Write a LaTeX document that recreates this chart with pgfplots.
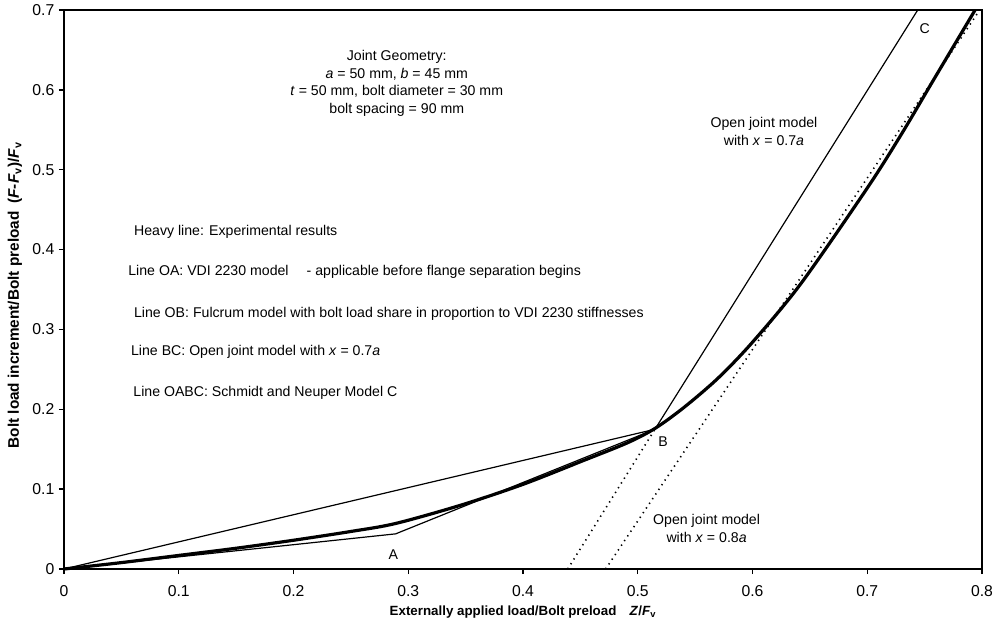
\documentclass[border=0pt]{standalone}
\usepackage{fontspec}
\setmainfont{Liberation Sans}
\usepackage{pgfplots}
\pgfplotsset{compat=1.18}
\begin{document}
\begin{tikzpicture}
\useasboundingbox (-48pt,-44.25pt) rectangle (704.25pt,426.75pt);
\begin{axis}[
  at={(0pt,0pt)}, anchor=south west,
  scale only axis, width=688.5pt, height=419.25pt,
  xmin=0, xmax=0.8, ymin=0, ymax=0.7,
  xtick={0,0.1,0.2,0.3,0.4,0.5,0.6,0.7,0.8},
  xticklabels={0,0.1,0.2,0.3,0.4,0.5,0.6,0.7,0.8},
  ytick={0,0.1,0.2,0.3,0.4,0.5,0.6,0.7},
  yticklabels={0,0.1,0.2,0.3,0.4,0.5,0.6,0.7},
  tick align=outside, tick pos=left,
  major tick length=3.75pt,
  axis line style={line width=1pt},
  tick style={line width=1pt, black},
  ticklabel style={font=\fontsize{11.8}{13}\selectfont},
  xticklabel style={yshift=-5pt},
  xlabel={\bfseries Externally applied load/Bolt preload\quad \textit{Z}/\textit{F}\textsubscript{v}},
  ylabel={\bfseries Bolt load increment/Bolt preload\enspace (\textit{F}-\textit{F}\textsubscript{v})/\textit{F}\textsubscript{v}},
  xlabel style={font=\fontsize{10}{12}\selectfont, at={(axis description cs:0.5,-0.077)}, anchor=center},
  ylabel style={font=\fontsize{11.5}{13}\selectfont, at={(axis description cs:-0.0534,0.49)}, anchor=center},
  clip=false,
]
% heavy line: experimental results
\addplot[black, line width=2.4pt, smooth, tension=0.5] coordinates {
(0,0) (0.05,0.008) (0.1,0.017) (0.15,0.026) (0.2,0.036) (0.25,0.047)
(0.289,0.057) (0.346,0.080) (0.4,0.106) (0.453,0.136) (0.491,0.158)
(0.515,0.176) (0.54,0.202) (0.57,0.239) (0.6,0.284) (0.642,0.357)
(0.7,0.477) (0.73,0.545) (0.758,0.613) (0.794,0.70)};
% line OB
\addplot[black, line width=0.9pt] coordinates {(0,0) (0.515,0.175)};
% line OAB
\addplot[black, line width=0.9pt] coordinates {(0,0) (0.289,0.044) (0.515,0.175)};
% line BC
\addplot[black, line width=0.9pt] coordinates {(0.515,0.175) (0.744,0.70)};
% dotted extension of BC
\addplot[black, line width=1.2pt, dash pattern=on 1pt off 3.2pt] coordinates {(0.439,0) (0.515,0.175)};
% dotted open joint model x=0.8a
\addplot[black, line width=1.2pt, dash pattern=on 1pt off 3.2pt] coordinates {(0.472,0) (0.798,0.70)};

\begin{scope}[every node/.style={font=\fontsize{10.6}{13.3}\selectfont}]
\node[align=center, anchor=center] at (axis cs:0.290,0.608) {Joint Geometry:\\ \textit{a} = 50 mm, \textit{b} = 45 mm\\ \textit{t} = 50 mm, bolt diameter = 30 mm\\ bolt spacing = 90 mm};
\node[anchor=west] at (axis cs:0.057,0.422) {Heavy line: Experimental results};
\node[anchor=west] at (axis cs:0.052,0.372) {Line OA: VDI 2230 model\quad\ - applicable before flange separation begins};
\node[anchor=west] at (axis cs:0.057,0.320) {Line OB: Fulcrum model with bolt load share in proportion to VDI 2230 stiffnesses};
\node[anchor=west] at (axis cs:0.0544,0.272) {Line BC: Open joint model with \textit{x} = 0.7\textit{a}};
\node[anchor=west] at (axis cs:0.0564,0.220) {Line OABC: Schmidt and Neuper Model C};
\node[align=center] at (axis cs:0.610,0.548) {Open joint model\\ with \textit{x} = 0.7\textit{a}};
\node[align=center] at (axis cs:0.560,0.051) {Open joint model\\ with \textit{x} = 0.8\textit{a}};
\node at (axis cs:0.750,0.677) {C};
\node at (axis cs:0.287,0.0175) {A};
\node at (axis cs:0.522,0.159) {B};
\end{scope}
\end{axis}
\end{tikzpicture}
\end{document}
